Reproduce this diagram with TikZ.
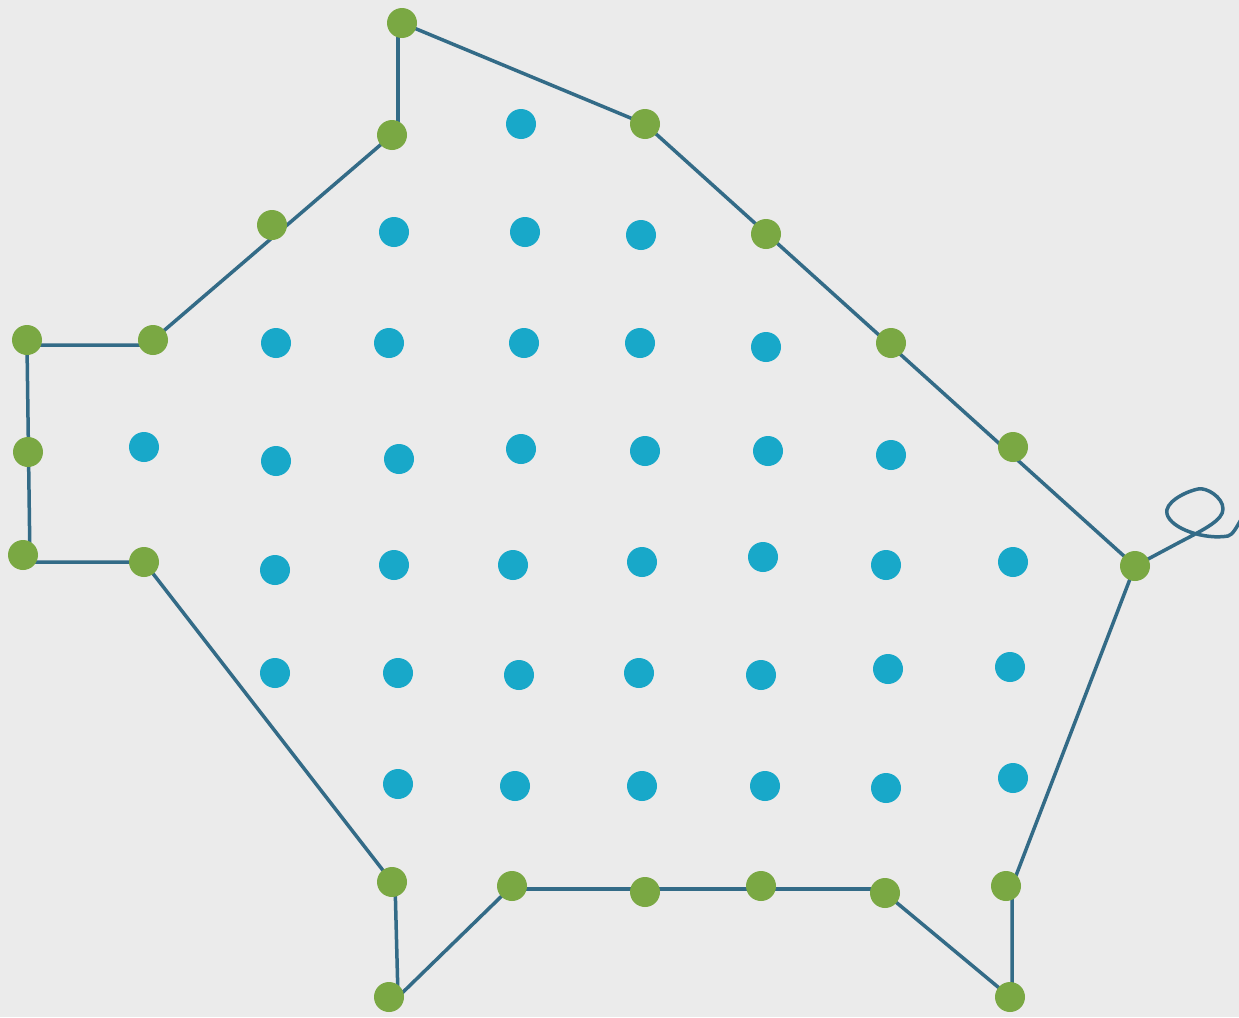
\documentclass[tikz,border=0pt]{standalone}
\definecolor{bg}{HTML}{EBEBEB}
\definecolor{gdot}{HTML}{7AA843}
\definecolor{bdot}{HTML}{18A8C9}
\definecolor{edge}{HTML}{336B87}
\begin{document}
\begin{tikzpicture}[x=1pt,y=-1pt,
  gd/.style={circle,fill=gdot,inner sep=0pt,minimum size=30pt},
  bd/.style={circle,fill=bdot,inner sep=0pt,minimum size=30pt},
  ln/.style={draw=edge,line width=3.5pt,line join=round}]
\fill[bg] (0,0) rectangle (1239,1017);
\useasboundingbox (0,0) rectangle (1239,1017);
% polygon vertices (line positions)
\coordinate (v1) at (402,23);
\coordinate (v1b) at (398,23);
\coordinate (v2) at (645,124);
\coordinate (v3) at (1135,566);
\coordinate (v4b) at (398,135);
\coordinate (v4) at (392,135);
\coordinate (v5) at (153,340);
\coordinate (v5b) at (153,345);
\coordinate (v6) at (27,345);
\coordinate (v7) at (30,562);
\coordinate (v7b) at (23,562);
\coordinate (v8) at (144,562);
\coordinate (v9) at (392,882);
\coordinate (v9b) at (395,882);
\coordinate (v10) at (398,997);
\coordinate (v11) at (512,886);
\coordinate (v11b) at (512,889);
\coordinate (v12) at (885,889);
\coordinate (v12b) at (885,893);
\coordinate (v13) at (1010,997);
\coordinate (v13b) at (1012,997);
\coordinate (v14) at (1012,886);
\coordinate (tail) at (1242,518);
% edges
\draw[ln] (v1) -- (v2) -- (v3);
\draw[ln] (v1b) -- (v4b);
\draw[ln] (v4) -- (v5);
\draw[ln] (v5b) -- (v6) -- (v7);
\draw[ln] (v7b) -- (v8) -- (v9);
\draw[ln] (v9b) -- (v10) -- (v11);
\draw[ln] (v11b) -- (v12);
\draw[ln] (v12b) -- (v13);
\draw[ln] (v13b) -- (v14) -- (v3);
\draw[ln] (v3) -- (1180,542) .. controls (1205,529) and (1223,520) .. (1223,509)
  .. controls (1223,497) and (1206,487) .. (1198,489)
  .. controls (1184,492) and (1164,503) .. (1167,514)
  .. controls (1171,529) and (1205,540) .. (1228,536)
  .. controls (1233,535) and (1237,526) .. (tail);
% green dots
\foreach \n/\x/\y in {g1/402/23, g2/645/124, g3/392/135, g4/272/225, g5/766/234,
  g6/27/340, g7/153/340, g8/891/343, g9/28/452, g10/1013/447, g11/23/555,
  g12/144/562, g13/1135/566, g14/392/882, g15/512/886, g16/645/892,
  g17/761/886, g18/885/893, g19/1006/886, g20/389/997, g21/1010/997}
  \node[gd] (\n) at (\x,\y) {};
% blue dots
\foreach \n/\x/\y in {b1/521/124,
  b2/394/232, b3/525/232, b4/641/235,
  b5/276/343, b6/389/343, b7/524/343, b8/640/343, b9/766/347,
  b10/144/447, b11/276/461, b12/399/459, b13/521/449, b14/645/451, b15/768/451, b16/891/455,
  b17/275/570, b18/394/565, b19/513/565, b20/642/562, b21/763/557, b22/886/565, b23/1013/562,
  b24/275/673, b25/398/673, b26/519/675, b27/639/673, b28/761/675, b29/888/669, b30/1010/667,
  b31/398/784, b32/515/786, b33/642/786, b34/765/786, b35/886/788, b36/1013/778}
  \node[bd] (\n) at (\x,\y) {};
\end{tikzpicture}
\end{document}
